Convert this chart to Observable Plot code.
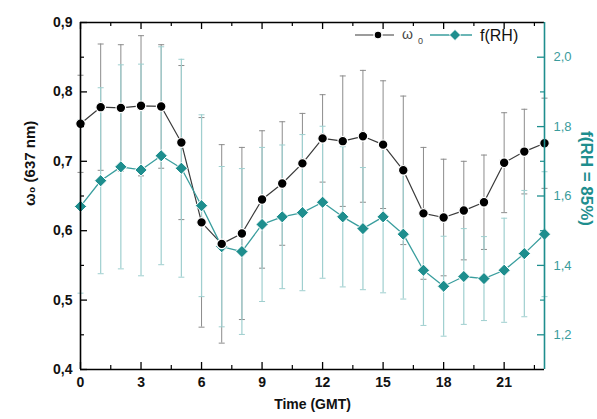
<!DOCTYPE html>
<html><head><meta charset="utf-8">
<script src="https://cdn.jsdelivr.net/npm/d3@7"></script>
<script src="https://cdn.jsdelivr.net/npm/@observablehq/plot@0.6"></script>
<style>
body{margin:0;background:#fff;}
#wrap{position:relative;width:597px;height:419px;font-family:"Liberation Sans",Arial,sans-serif;}
#legend{position:absolute;left:350px;top:24px;}
</style></head><body><div id="wrap"></div>
<script>
// ---- data ----
const hours = [0,1,2,3,4,5,6,7,8,9,10,11,12,13,14,15,16,17,18,19,20,21,22,23];
const omega = [0.754,0.778,0.777,0.780,0.779,0.727,0.612,0.581,0.596,0.645,0.668,0.697,0.733,0.729,0.736,0.724,0.687,0.625,0.619,0.629,0.641,0.698,0.714,0.726];
const omegaErr = [0.070,0.091,0.091,0.101,0.089,0.111,0.151,0.143,0.124,0.099,0.089,0.072,0.063,0.094,0.095,0.092,0.107,0.095,0.084,0.071,0.068,0.072,0.061,0.065];
const fRH = [1.570,1.644,1.684,1.675,1.716,1.680,1.572,1.454,1.440,1.518,1.540,1.552,1.582,1.540,1.506,1.540,1.490,1.386,1.340,1.368,1.362,1.386,1.434,1.490];
const fRHErr = [0.250,0.268,0.294,0.305,0.314,0.314,0.262,0.231,0.239,0.222,0.207,0.225,0.219,0.202,0.176,0.219,0.187,0.159,0.144,0.138,0.121,0.150,0.182,0.180];

const xMajor = [0,3,6,9,12,15,18,21];
const xMinor = [1.5,4.5,7.5,10.5,13.5,16.5,19.5,22.5];
const yLeftMajor = [0.4,0.5,0.6,0.7,0.8,0.9];
const yLeftMinor = [0.45,0.55,0.65,0.75,0.85];
const fMajor = [1.2,1.4,1.6,1.8,2.0];
const fMinor = [1.3,1.5,1.7,1.9];
const xDomain = [0,23];
const yDomain = [0.4,0.9];
const fDomain = [1.1,2.1];
const legendLabels = ["ω", "0", "f(RH)"];
const titles = {x: "Time (GMT)", yLeft: "ω₀ (637 nm)", yRight: "f(RH = 85%)"};

// ---- layout / style ----
const W = 597, H = 419;
const mL = 80, mR = 53, mT = 22, mB = 50;
const teal = "#1e8e8e", tealLight = "#9fcfcf", tealText = "#3a9c9c";
const pxX = (xDomain[1]-xDomain[0])/(W-mL-mR);
const pxY = (yDomain[1]-yDomain[0])/(H-mT-mB);
// map right-axis value into left-axis units
const yOfF = f => yDomain[0] + (f - fDomain[0]) * (yDomain[1]-yDomain[0])/(fDomain[1]-fDomain[0]);
const fOfY = y => fDomain[0] + (y - yDomain[0]) * (fDomain[1]-fDomain[0])/(yDomain[1]-yDomain[0]);
const comma = v => v.toFixed(1).replace(".", ",");

const rows = hours.map((h,i) => ({h, w: omega[i], we: omegaErr[i], f: fRH[i], fe: fRHErr[i]}));
const capW = 3*pxX;

const chart = Plot.plot({
  width: W, height: H,
  marginLeft: mL, marginRight: mR, marginTop: mT, marginBottom: mB,
  style: {fontFamily: "'Liberation Sans', Arial, sans-serif", background: "#fff", overflow: "visible"},
  x: {domain: xDomain},
  y: {domain: yDomain},
  marks: [
    // error bars omega (grey)
    Plot.ruleX(rows, {x: "h", y1: d => d.w - d.we, y2: d => d.w + d.we, stroke: "#8c8c8c", strokeWidth: 1}),
    Plot.link(rows, {x1: d => d.h - capW, x2: d => d.h + capW, y1: d => d.w + d.we, y2: d => d.w + d.we, stroke: "#8c8c8c", strokeWidth: 1}),
    Plot.link(rows, {x1: d => d.h - capW, x2: d => d.h + capW, y1: d => d.w - d.we, y2: d => d.w - d.we, stroke: "#8c8c8c", strokeWidth: 1}),
    // error bars f(RH) (light teal)
    Plot.ruleX(rows, {x: "h", y1: d => yOfF(d.f - d.fe), y2: d => yOfF(d.f + d.fe), stroke: tealLight, strokeWidth: 1.2}),
    Plot.link(rows, {x1: d => d.h - capW, x2: d => d.h + capW, y1: d => yOfF(d.f + d.fe), y2: d => yOfF(d.f + d.fe), stroke: tealLight, strokeWidth: 1}),
    Plot.link(rows, {x1: d => d.h - capW, x2: d => d.h + capW, y1: d => yOfF(d.f - d.fe), y2: d => yOfF(d.f - d.fe), stroke: tealLight, strokeWidth: 1}),
    // lines
    Plot.line(rows, {x: "h", y: "w", stroke: "#3a3a3a", strokeWidth: 1.2}),
    Plot.line(rows, {x: "h", y: d => yOfF(d.f), stroke: "#3a9e9e", strokeWidth: 1.3}),
    // markers
    Plot.dot(rows, {x: "h", y: d => yOfF(d.f), symbol: "diamond2", r: 5.5, fill: teal, stroke: "white", strokeWidth: 1}),
    Plot.dot(rows, {x: "h", y: "w", r: 4.8, fill: "#000", stroke: "white", strokeWidth: 1.2}),
    // frame
    Plot.ruleY([yDomain[0]], {stroke: "#000", strokeWidth: 1.6}),
    Plot.ruleY([yDomain[1]], {stroke: "#000", strokeWidth: 1.6}),
    Plot.ruleX([xDomain[0]], {stroke: "#000", strokeWidth: 1.6}),
    Plot.ruleX([xDomain[1]], {stroke: teal, strokeWidth: 1.6}),
    // inward ticks bottom/top
    Plot.ruleX(xMajor, {x: d => d, y1: yDomain[0], y2: yDomain[0] + 7*pxY, stroke: "#000", strokeWidth: 1.3}),
    Plot.ruleX(xMinor, {x: d => d, y1: yDomain[0], y2: yDomain[0] + 4*pxY, stroke: "#000", strokeWidth: 1.2}),
    Plot.ruleX(xMajor, {x: d => d, y1: yDomain[1], y2: yDomain[1] - 7*pxY, stroke: "#000", strokeWidth: 1.3}),
    Plot.ruleX(xMinor, {x: d => d, y1: yDomain[1], y2: yDomain[1] - 4*pxY, stroke: "#000", strokeWidth: 1.2}),
    // inward ticks left
    Plot.ruleY(yLeftMajor, {y: d => d, x1: xDomain[0], x2: xDomain[0] + 7*pxX, stroke: "#000", strokeWidth: 1.3}),
    Plot.ruleY(yLeftMinor, {y: d => d, x1: xDomain[0], x2: xDomain[0] + 4*pxX, stroke: "#000", strokeWidth: 1.2}),
    // inward ticks right (teal)
    Plot.ruleY(fMajor, {y: d => yOfF(d), x1: xDomain[1] - 7*pxX, x2: xDomain[1], stroke: teal, strokeWidth: 1.3}),
    Plot.ruleY(fMinor, {y: d => yOfF(d), x1: xDomain[1] - 4*pxX, x2: xDomain[1], stroke: teal, strokeWidth: 1.2}),
    // tick labels
    Plot.axisX(xMajor, {anchor: "bottom", tickSize: 0, tickPadding: 8, tickFormat: d => String(d), label: null, fontWeight: "bold", fontSize: 14, fill: "#111"}),
    Plot.axisY(yLeftMajor, {anchor: "left", tickSize: 0, tickPadding: 8, tickFormat: comma, label: null, fontWeight: "bold", fontSize: 14, fill: "#111"}),
    Plot.axisY(fMajor.map(yOfF), {anchor: "right", tickSize: 0, tickPadding: 9, tickFormat: y => comma(fOfY(y)), label: null, fontSize: 13, fill: tealText}),
    // axis titles
    Plot.text([titles.x], {text: d => d, frameAnchor: "bottom", dy: 39, fontWeight: "bold", fontSize: 14, fill: "#111"}),
    Plot.text([titles.yLeft], {text: d => d, frameAnchor: "left", dx: -50, dy: 10, rotate: -90, fontWeight: "bold", fontSize: 15, fill: "#111"}),
    Plot.text([titles.yRight], {text: d => d, frameAnchor: "right", dx: 42, dy: 30, rotate: 90, fontWeight: "bold", fontSize: 17, fill: teal})
  ]
});
document.getElementById("wrap").appendChild(chart);

// legend (inside plot, top right)
const ns = "http://www.w3.org/2000/svg";
const leg = d3.select("#wrap").append("svg").attr("id", "legend").attr("width", 190).attr("height", 24)
  .style("font-family", "'Liberation Sans', Arial, sans-serif");
leg.append("line").attr("x1", 5).attr("x2", 44).attr("y1", 11).attr("y2", 11).attr("stroke", "#3a3a3a").attr("stroke-width", 1.2);
leg.append("circle").attr("cx", 28).attr("cy", 11).attr("r", 4).attr("fill", "#000").attr("stroke", "#fff").attr("stroke-width", 1.5);
leg.append("text").attr("x", 52).attr("y", 15).attr("font-size", 14).attr("fill", "#444").text(legendLabels[0]);
leg.append("text").attr("x", 68).attr("y", 20).attr("font-size", 9).attr("fill", "#444").text(legendLabels[1]);
leg.append("line").attr("x1", 80).attr("x2", 122).attr("y1", 11).attr("y2", 11).attr("stroke", "#3a9e9e").attr("stroke-width", 1.3);
leg.append("path").attr("d", d3.symbol(d3.symbolDiamond2, 80)()).attr("transform", "translate(105,11)").attr("fill", teal).attr("stroke", "#fff").attr("stroke-width", 1);
leg.append("text").attr("x", 130).attr("y", 17).attr("font-size", 16).attr("fill", "#111").text(legendLabels[2]);
</script>
</body></html>
